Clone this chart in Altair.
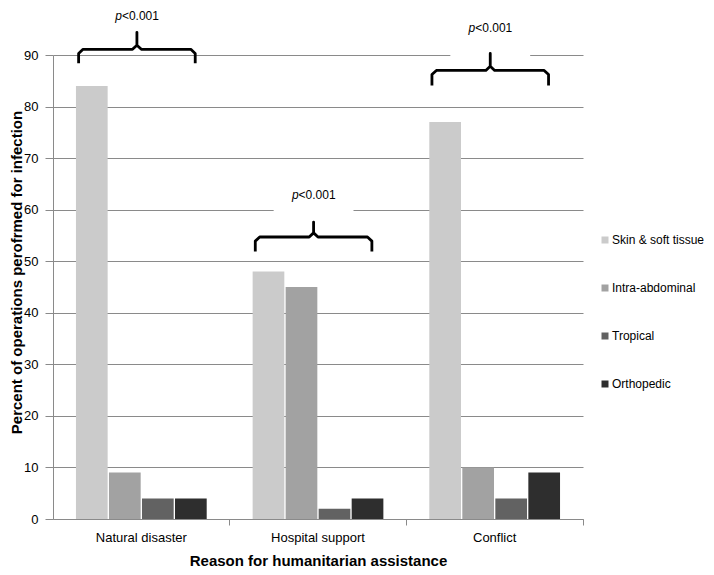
import altair as alt
import pandas as pd

# ---- data ----
categories = ["Natural disaster", "Hospital support", "Conflict"]
series = ["Skin & soft tissue", "Intra-abdominal", "Tropical", "Orthopedic"]
skin = [84, 48, 77]
intra = [9, 45, 10]
tropical = [4, 2, 4]
ortho = [4, 4, 9]
colors = ["#cbcbcb", "#a2a2a2", "#626262", "#2e2e2e"]

# significance brackets (y levels in data units)
p_text = ["p", "p", "p"]
p_rest = ["<0.001", "<0.001", "<0.001"]
brace_end = [88.4, 51.9, 84.1]
brace_mid = [91.1, 54.7, 87.0]
brace_tip = [94.4, 57.6, 90.3]
label_y = [97.6, 62.8, 95.2]

# ---- tables ----
rows = []
for i, c in enumerate(categories):
    for s, vals in zip(series, [skin, intra, tropical, ortho]):
        rows.append({"category": c, "series": s, "value": vals[i]})
df = pd.DataFrame(rows)

hw, e, d, shift = 0.33, 0.025, 0.8, -0.025
brace_rows = []
for i in range(len(categories)):
    c = i + 0.5 + shift
    L, R = c - hw, c + hw
    pts = [
        (L, brace_end[i]), (L, brace_mid[i] - d), (L + e, brace_mid[i]),
        (c - e, brace_mid[i]), (c, brace_mid[i] + d), (c, brace_tip[i]),
        (c, brace_mid[i] + d), (c + e, brace_mid[i]), (R - e, brace_mid[i]),
        (R, brace_mid[i] - d), (R, brace_end[i]),
    ]
    for k, (x, y) in enumerate(pts):
        brace_rows.append({"grp": i, "ord": k, "x": x, "y": y})
brace_df = pd.DataFrame(brace_rows)

lab_df = pd.DataFrame({
    "x": [i + 0.5 + shift for i in range(len(categories))],
    "y": label_y,
    "p": p_text,
    "rest": p_rest,
    "x0": [i + 0.5 + shift - 0.226 for i in range(len(categories))],
    "x1": [i + 0.5 + shift + 0.226 for i in range(len(categories))],
    "y0": [v - 6.5 for v in label_y],
    "y1": [v + 2.0 for v in label_y],
})

ytitle = "Percent of operations perofrmed for infection"
yscale = alt.Scale(domain=[0, 90], nice=False)
xq = alt.X("x:Q", scale=alt.Scale(domain=[0, 3], nice=False, zero=False), axis=None)

bars = alt.Chart(df).mark_bar().encode(
    x=alt.X("category:N", sort=categories,
            scale=alt.Scale(paddingInner=0.26, paddingOuter=0.13),
            axis=alt.Axis(title="Reason for humanitarian assistance", labelAngle=0,
                          bandPosition=1.176, tickSize=6, labelPadding=6,
                          titlePadding=9, titleFontSize=15)),
    xOffset=alt.XOffset("series:N", sort=series, scale=alt.Scale(paddingInner=0.04)),
    y=alt.Y("value:Q", scale=yscale,
            axis=alt.Axis(title=ytitle, values=list(range(0, 100, 10)),
                          tickSize=8, labelPadding=7, titleFontSize=15,
                          titleX=-37, titleY=217, titleBaseline="middle",
                          titleAngle=270)),
    color=alt.Color("series:N", sort=series,
                    scale=alt.Scale(domain=series, range=colors),
                    legend=alt.Legend(title=None, orient="none", legendX=546, legendY=179,
                                      symbolType="square", symbolSize=49,
                                      labelFontSize=12, rowPadding=36,
                                      labelOffset=1, symbolStrokeWidth=0)),
)

gaps = alt.Chart(lab_df).mark_rect(color="white").encode(
    x=xq, x2="x1:Q", y=alt.Y("y0:Q", scale=yscale, title=ytitle), y2="y1:Q"
).transform_calculate(x="datum.x0")

braces = alt.Chart(brace_df).mark_line(color="black", strokeWidth=2.8, clip=False,
                                       strokeJoin="round").encode(
    x=xq, y=alt.Y("y:Q", scale=yscale, title=ytitle),
    detail="grp:N", order="ord:Q",
)

ptxt = alt.Chart(lab_df).mark_text(fontSize=12, fontStyle="italic", align="right",
                                   dx=-15, baseline="middle", color="black").encode(
    x=xq, y=alt.Y("y:Q", scale=yscale, title=ytitle), text="p:N")
rtxt = alt.Chart(lab_df).mark_text(fontSize=12, align="left",
                                   dx=-15, baseline="middle", color="black").encode(
    x=xq, y=alt.Y("y:Q", scale=yscale, title=ytitle), text="rest:N")

chart = alt.layer(gaps, bars, braces, ptxt, rtxt).resolve_scale(
    x="independent"
).properties(
    width=530, height=464,
    padding={"left": 45, "top": 47, "right": 123, "bottom": 48},
    autosize=alt.AutoSizeParams(type="none"),
).configure(
    font="Liberation Sans",
).configure_view(stroke=None).configure_axis(
    labelFontSize=13, labelColor="black", titleFontSize=14, titleColor="black",
    titleFontWeight="bold", domainColor="#8a8a8a", tickColor="#8a8a8a",
    gridColor="#8a8a8a", gridWidth=1,
).configure_axisX(grid=False).configure_legend(
    labelColor="black"
)

chart.save("out.html", embed_options={"renderer": "svg", "actions": False})
